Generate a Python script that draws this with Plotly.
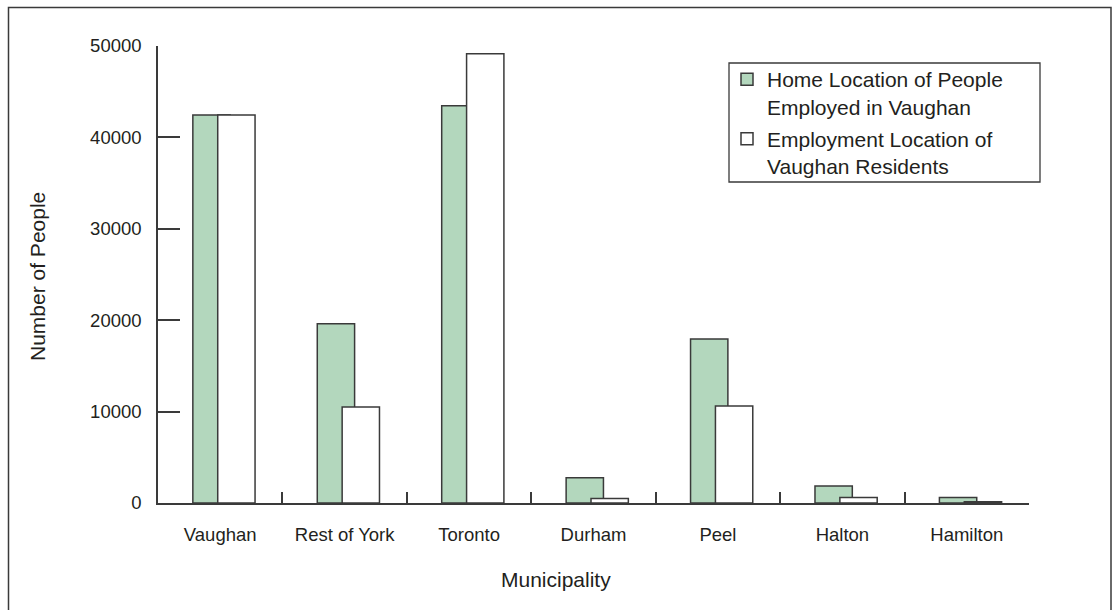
import plotly.graph_objects as go

categories = ["Vaughan", "Rest of York", "Toronto", "Durham", "Peel", "Halton", "Hamilton"]
home_location = [42450, 19600, 43450, 2750, 17950, 1850, 600]
employment_location = [42450, 10500, 49150, 480, 10600, 590, 150]
series_names = ["Home Location of People<br>Employed in Vaughan",
                "Employment Location of<br>Vaughan Residents"]
y_ticks = [0, 10000, 20000, 30000, 40000, 50000]

FONT = "Liberation Sans, Arial, sans-serif"
TXT = "#231f20"
LINE = "#3a3a3a"

# body margin is removed in the page, so figure coords = page coords
W, H = 1113, 610
L, R, T, B = 158, 1029, 46, 503
pw, ph = R - L, B - T


def px(x):
    return (x - L) / pw


def py(y):
    return (B - y) / ph


fig = go.Figure()
fig.add_trace(go.Bar(
    x=categories, y=home_location, name=series_names[0],
    width=0.3, offset=-0.22,
    marker=dict(color="#b3d7bd", line=dict(color=LINE, width=1.5)),
    legendgroup="a",
))
fig.add_trace(go.Bar(
    x=categories, y=employment_location, name=series_names[1],
    width=0.3, offset=-0.02,
    marker=dict(color="#ffffff", line=dict(color=LINE, width=1.5)),
    legendgroup="b",
))

fig.update_layout(
    width=W, height=H,
    margin=dict(l=L, r=W - R, t=T, b=H - B, pad=0),
    barmode="overlay",
    paper_bgcolor="white", plot_bgcolor="white",
    font=dict(family=FONT, color=TXT, size=18),
    showlegend=True,
    legend=dict(
        x=px(727), y=py(59), xanchor="left", yanchor="top",
        borderwidth=0, bgcolor="rgba(0,0,0,0)",
        font=dict(size=21, family=FONT, color=TXT),
        traceorder="grouped", tracegroupgap=2,
        valign="top",
    ),
    xaxis=dict(
        type="category", range=[-0.5, 6.5],
        showline=True, linecolor=LINE, linewidth=1.5,
        ticks="inside", tickson="boundaries", ticklen=11,
        tickcolor=LINE, tickwidth=1.5,
        tickfont=dict(size=18.5, family=FONT, color=TXT),
        ticklabelstandoff=14,
        showgrid=False, zeroline=False,
    ),
    yaxis=dict(
        range=[0, 50000], tickvals=y_ticks,
        ticktext=[str(v) for v in y_ticks],
        showline=True, linecolor=LINE, linewidth=1.5,
        ticks="inside", ticklen=22, tickcolor=LINE, tickwidth=1.5,
        tickfont=dict(size=18.5, family=FONT, color=TXT),
        ticklabelstandoff=11,
        showgrid=False, zeroline=False,
    ),
    shapes=[
        # outer frame
        dict(type="rect", xref="paper", yref="paper",
             x0=px(8.5), x1=px(1111), y0=py(7.5), y1=py(660),
             line=dict(color=LINE, width=1.5), fillcolor="rgba(0,0,0,0)", layer="below"),
        # legend frame
        dict(type="rect", xref="paper", yref="paper",
             x0=px(729), x1=px(1040), y0=py(63), y1=py(182),
             line=dict(color=LINE, width=1.3), fillcolor="white", layer="above"),
    ],
    annotations=[
        dict(text="Municipality", xref="paper", yref="paper",
             x=px(556), y=py(579), xanchor="center", yanchor="middle",
             showarrow=False, font=dict(size=21, family=FONT, color=TXT)),
        dict(text="Number of People", xref="paper", yref="paper",
             x=px(37), y=py(277), xanchor="center", yanchor="middle",
             textangle=-90,
             showarrow=False, font=dict(size=21, family=FONT, color=TXT)),
    ],
)

fig.write_html(
    "out.html",
    config={"displayModeBar": False},
    post_script="document.body.style.margin='0';document.body.style.overflow='hidden';",
)
